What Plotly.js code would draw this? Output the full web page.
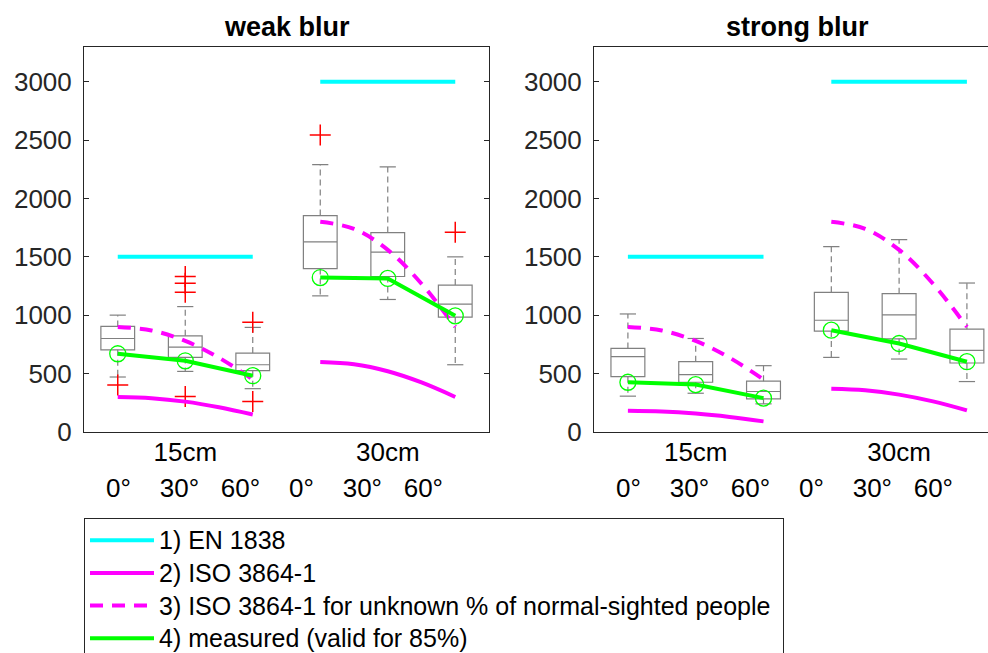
<!DOCTYPE html>
<html>
<head>
<meta charset="utf-8">
<script src="https://cdn.plot.ly/plotly-3.0.1.min.js"></script>
<style>html,body{margin:0;padding:0;background:#fff;}#chart{width:988px;height:653px;}</style>
</head>
<body>
<div id="chart"></div>
<script>
// ---- data ----
const positions = [1, 2, 3, 4, 5, 6];
const groupLabels = ['15cm', '30cm'];
const groupTickPos = [2, 5];
const angleRow = '0°\u00A0\u00A0\u00A0\u00A030°\u00A0\u00A0\u00A060°\u00A0\u00A0\u00A0\u00A00°\u00A0\u00A0\u00A0\u00A030°\u00A0\u00A0\u00A060°';
const panelTitles = ['weak blur', 'strong blur'];
const yTicks = [0, 500, 1000, 1500, 2000, 2500, 3000];

// weak blur box statistics
const weakQ1 = [704, 639, 525, 1400, 1332, 984];
const weakMed = [801, 727, 576, 1628, 1540, 1095];
const weakQ3 = [904, 824, 676, 1854, 1708, 1258];
const weakLo = [471, 519, 371, 1166, 1135, 576];
const weakHi = [1001, 1074, 896, 2290, 2270, 1500];
const weakOutX = [1, 2, 2, 2, 2, 3, 3, 4, 6];
const weakOutY = [403, 1331, 1274, 1197, 303, 941, 262, 2544, 1711];

// strong blur box statistics
const strongQ1 = [474, 426, 284, 864, 798, 591];
const strongMed = [645, 491, 347, 957, 1003, 699];
const strongQ3 = [716, 602, 435, 1196, 1185, 881];
const strongLo = [307, 332, 241, 639, 625, 432];
const strongHi = [1011, 801, 568, 1588, 1648, 1276];

// measured (green)
const weakMeasured = [670, 610, 482, 1323, 1315, 995];
const strongMeasured = [426, 406, 290, 872, 758, 602];

// EN 1838 (cyan)
const en15X = [1, 3], en15Y = [1500, 1500];
const en30X = [4, 6], en30Y = [3000, 3000];

// ISO 3864-1 curves (sampled along each group)
const iso15X = [1, 1.5, 2, 2.5, 3];
const iso30X = [4, 4.5, 5, 5.5, 6];
const weakIso15 = [300, 290, 260, 212, 150];
const weakIso30 = [600, 580, 520, 424, 300];
const strongIso15 = [182, 176, 158, 129, 91];
const strongIso30 = [370, 357, 320, 262, 185];
const isoUnknown15 = [900, 870, 780, 636, 450];
const isoUnknown30 = [1800, 1740, 1560, 1270, 900];

const legendNames = ['1) EN 1838', '2) ISO 3864-1', '3) ISO 3864-1 for unknown % of normal-sighted people', '4) measured (valid for 85%)'];

// ---- styles ----
const FONT = 'Liberation Sans, Arial, Helvetica, sans-serif';
const boxGrey = '#808080';
const CYAN = '#00FFFF', MAG = '#FF00FF', GREEN = '#00FF00';
const capHalf = 0.12;
const legName = s => '<span style="font-size:25px">' + s + '\u00A0</span>';

function whiskerXY(pos, q1, q3, lo, hi) {
  const x = [], y = [];
  pos.forEach((p, i) => { x.push(p, p, null, p, p, null); y.push(q3[i], hi[i], null, q1[i], lo[i], null); });
  return {x, y};
}
function capXY(pos, lo, hi) {
  const x = [], y = [];
  pos.forEach((p, i) => { x.push(p - capHalf, p + capHalf, null, p - capHalf, p + capHalf, null); y.push(hi[i], hi[i], null, lo[i], lo[i], null); });
  return {x, y};
}

function panel(xa, ya, q1, med, q3, lo, hi, outX, outY, iso15, iso30, meas, showLeg) {
  const tr = [];
  tr.push({type: 'box', x: positions, q1: q1, median: med, q3: q3, lowerfence: q1, upperfence: q3,
    width: 0.5, boxpoints: false, fillcolor: 'rgba(0,0,0,0)', line: {color: boxGrey, width: 1.2},
    xaxis: xa, yaxis: ya, showlegend: false, hoverinfo: 'skip'});
  const w = whiskerXY(positions, q1, q3, lo, hi);
  tr.push({type: 'scatter', mode: 'lines', x: w.x, y: w.y, line: {color: boxGrey, width: 1.2, dash: '6px,4px'},
    xaxis: xa, yaxis: ya, showlegend: false, hoverinfo: 'skip'});
  const c = capXY(positions, lo, hi);
  tr.push({type: 'scatter', mode: 'lines', x: c.x, y: c.y, line: {color: boxGrey, width: 1.2},
    xaxis: xa, yaxis: ya, showlegend: false, hoverinfo: 'skip'});
  if (outX.length) tr.push({type: 'scatter', mode: 'markers', x: outX, y: outY,
    marker: {symbol: 'cross-thin', size: 15, line: {color: '#FF0000', width: 1.5}},
    xaxis: xa, yaxis: ya, showlegend: false, hoverinfo: 'skip'});
  // cyan
  tr.push({type: 'scatter', mode: 'lines', x: en15X, y: en15Y, line: {color: CYAN, width: 4}, name: legName(legendNames[0]),
    legendgroup: 'a', showlegend: showLeg, xaxis: xa, yaxis: ya});
  tr.push({type: 'scatter', mode: 'lines', x: en30X, y: en30Y, line: {color: CYAN, width: 4}, name: legendNames[0],
    legendgroup: 'a', showlegend: false, xaxis: xa, yaxis: ya});
  // magenta solid
  tr.push({type: 'scatter', mode: 'lines', x: iso15X, y: iso15, line: {color: MAG, width: 4, shape: 'spline'}, name: legName(legendNames[1]),
    legendgroup: 'b', showlegend: showLeg, xaxis: xa, yaxis: ya});
  tr.push({type: 'scatter', mode: 'lines', x: iso30X, y: iso30, line: {color: MAG, width: 4, shape: 'spline'}, name: legendNames[1],
    legendgroup: 'b', showlegend: false, xaxis: xa, yaxis: ya});
  // magenta dashed
  tr.push({type: 'scatter', mode: 'lines', x: iso15X, y: isoUnknown15, line: {color: MAG, width: 4, shape: 'spline', dash: '13px,9px'}, name: legName(legendNames[2]),
    legendgroup: 'c', showlegend: showLeg, xaxis: xa, yaxis: ya});
  tr.push({type: 'scatter', mode: 'lines', x: iso30X, y: isoUnknown30, line: {color: MAG, width: 4, shape: 'spline', dash: '13px,9px'}, name: legendNames[2],
    legendgroup: 'c', showlegend: false, xaxis: xa, yaxis: ya});
  // green measured
  tr.push({type: 'scatter', mode: 'lines+markers', x: positions.slice(0, 3), y: meas.slice(0, 3), line: {color: GREEN, width: 4},
    marker: {symbol: 'circle-open', size: 16, color: GREEN, line: {width: 1.3}}, name: legendNames[3],
    legendgroup: 'd', showlegend: false, xaxis: xa, yaxis: ya});
  tr.push({type: 'scatter', mode: 'lines+markers', x: positions.slice(3), y: meas.slice(3), line: {color: GREEN, width: 4},
    marker: {symbol: 'circle-open', size: 16, color: GREEN, line: {width: 1.3}}, name: legendNames[3],
    legendgroup: 'd', showlegend: false, xaxis: xa, yaxis: ya});
  if (showLeg) tr.push({type: 'scatter', mode: 'lines', x: [null], y: [null], line: {color: GREEN, width: 4}, name: legName(legendNames[3]),
    legendgroup: 'd', showlegend: true, xaxis: xa, yaxis: ya});
  return tr;
}

const data = [].concat(
  panel('x', 'y', weakQ1, weakMed, weakQ3, weakLo, weakHi, weakOutX, weakOutY, weakIso15, weakIso30, weakMeasured, true),
  panel('x2', 'y2', strongQ1, strongMed, strongQ3, strongLo, strongHi, [], [], strongIso15, strongIso30, strongMeasured, false)
);

const yDom = [1 - 432 / 653, 1 - 46.7 / 653];
const axisCommon = {showline: true, linecolor: '#262626', linewidth: 1, showgrid: false, zeroline: false, fixedrange: true};
const xCommon = Object.assign({}, axisCommon, {tickvals: groupTickPos, ticktext: groupLabels, ticks: '',
  tickfont: {family: FONT, size: 26, color: '#000'}, mirror: true, ticklabelstandoff: -3});
const yCommon = Object.assign({}, axisCommon, {range: [0, 3300], tickvals: yTicks, ticks: 'inside', ticklen: 5,
  tickcolor: '#262626', tickfont: {family: FONT, size: 26, color: '#262626'}, ticklabelstandoff: 6, domain: yDom});

const layout = {
  width: 988, height: 653,
  margin: {l: 0, r: 0, t: 0, b: 0, autoexpand: false},
  paper_bgcolor: '#fff', plot_bgcolor: '#fff',
  showlegend: true,
  xaxis: Object.assign({}, xCommon, {domain: [84 / 988, 489 / 988], range: [0.5, 6.5], anchor: 'y'}),
  yaxis: Object.assign({}, yCommon, {anchor: 'x', mirror: 'ticks'}),
  xaxis2: Object.assign({}, xCommon, {domain: [594 / 988, 1], range: [0.5, 6.311], anchor: 'y2'}),
  yaxis2: Object.assign({}, yCommon, {anchor: 'x2', mirror: false}),
  legend: {x: 84 / 988, y: 1 - 518 / 653, xanchor: 'left', yanchor: 'top', bgcolor: '#fff',
    bordercolor: '#262626', borderwidth: 1, font: {family: FONT, size: 22.8, color: '#000'},
    itemwidth: 64, tracegroupgap: 0, traceorder: 'normal'},
  annotations: [
    {text: '<b>' + panelTitles[0] + '</b>', xref: 'x domain', yref: 'paper', x: 0.5, y: 1 - 27 / 653,
      xanchor: 'center', yanchor: 'middle', showarrow: false, font: {family: FONT, size: 27, color: '#000'}},
    {text: '<b>' + panelTitles[1] + '</b>', xref: 'x2', yref: 'paper', x: 3.5, y: 1 - 27 / 653,
      xanchor: 'center', yanchor: 'middle', showarrow: false, font: {family: FONT, size: 27, color: '#000'}},
    {text: angleRow, xref: 'x', yref: 'paper', x: 0.79, y: 1 - 488 / 653, xanchor: 'left', yanchor: 'middle',
      showarrow: false, font: {family: FONT, size: 26, color: '#000'}},
    {text: angleRow, xref: 'x2', yref: 'paper', x: 0.79, y: 1 - 488 / 653, xanchor: 'left', yanchor: 'middle',
      showarrow: false, font: {family: FONT, size: 26, color: '#000'}}
  ]
};

Plotly.newPlot('chart', data, layout, {displayModeBar: false, staticPlot: true});
</script>
</body>
</html>
